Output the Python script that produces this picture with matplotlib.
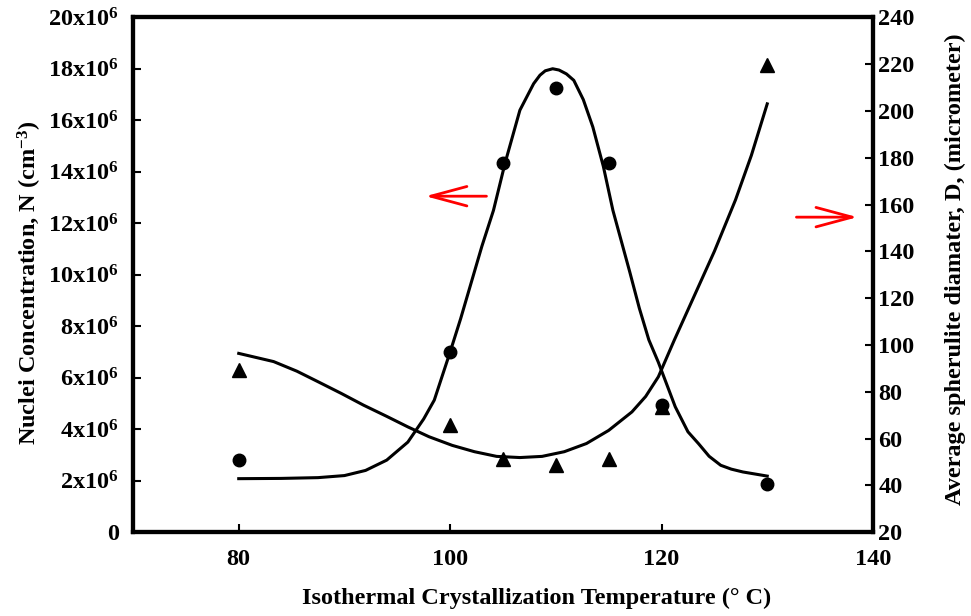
import matplotlib
matplotlib.use("Agg")
import matplotlib.pyplot as plt

# === Données ===
temp = [80, 100, 105, 110, 115, 120, 130]
nuclei = [2.8e6, 7.0e6, 14.34e6, 17.24e6, 14.34e6, 4.94e6, 1.86e6]
diam = [89.5, 65.7, 51.4, 48.6, 51.4, 73.6, 219.6]

# courbe lissée (N)
fit_n_t = [80, 84, 87.5, 90, 92, 94, 96, 97.5, 98.5, 100, 101, 102, 103, 104.1, 105.2,
           106.6, 107.9, 108.5, 109, 109.7, 110.3, 111, 111.7, 112.6, 113.5, 114.5,
           115.4, 116.2, 117, 117.9, 118.8, 119.7, 121.3, 122.5, 123.5, 124.5, 125.6,
           126.6, 127.7, 129, 130]
fit_n = [2.08, 2.09, 2.12, 2.2, 2.4, 2.8, 3.5, 4.4, 5.13, 7.0, 8.3, 9.7, 11.1, 12.5, 14.34,
         16.39, 17.42, 17.75, 17.92, 18.0, 17.95, 17.8, 17.55, 16.8, 15.74, 14.2,
         12.5, 11.3, 10.1, 8.7, 7.47, 6.6, 4.87, 3.9, 3.44, 2.95, 2.6,
         2.45, 2.34, 2.25, 2.18]

# courbe lissée (D)
fit_d_t = [80, 83.3, 85.5, 87.5, 89.7, 91.8, 94, 96, 98, 100.2, 102.3, 104.4, 106.6,
           108.7, 110.8, 112.9, 115, 117.2, 118.5, 119.7, 121.2, 123, 125, 127, 128.5, 130]
fit_d = [96.4, 92.9, 88.8, 84.3, 79.3, 74.3, 69.5, 65.0, 60.8, 57.1, 54.4, 52.4, 51.9,
         52.4, 54.4, 57.9, 63.5, 71.4, 78, 86.4, 102, 120, 140, 162, 181, 203]

y_left_ticks = list(range(0, 21, 2))
y_left_labels = ["0"] + [f"{v}x10$^{{6}}$" for v in y_left_ticks[1:]]

# === Style ===
plt.rcParams["font.family"] = "Liberation Serif"
plt.rcParams["font.weight"] = "bold"
plt.rcParams["mathtext.fontset"] = "custom"
plt.rcParams["mathtext.rm"] = "Liberation Serif:bold"
plt.rcParams["mathtext.it"] = "Liberation Serif:bold"
plt.rcParams["mathtext.bf"] = "Liberation Serif:bold"

fig = plt.figure(figsize=(9.71, 6.16), dpi=100)
ax = fig.add_axes([0.137, 0.136, 0.762, 0.836])
ax2 = ax.twinx()

ax.plot(fit_n_t, [v * 1e6 for v in fit_n], color="black", lw=2.2)
ax.plot(temp, nuclei, "o", color="black", ms=9)
ax2.plot(fit_d_t, fit_d, color="black", lw=2.2)
ax2.plot(temp, diam, "^", color="black", ms=9.5)

ax.set_xlim(70, 140)
ax.set_ylim(0, 20e6)
ax2.set_ylim(20, 240)

ax.set_xticks([80, 100, 120, 140])
ax.set_yticks([v * 1e6 for v in y_left_ticks])
ax.set_yticklabels(y_left_labels)
ax2.set_yticks(range(20, 241, 20))

for a in (ax, ax2):
    for s in a.spines.values():
        s.set_linewidth(3)
    a.tick_params(direction="in", length=6, width=1.5, labelsize=17.5)
ax.tick_params(axis="y", pad=10)
ax.tick_params(axis="x", pad=12)
ax2.tick_params(axis="y", pad=4)

ax.set_xlabel("Isothermal Crystallization Temperature (° C)", fontsize=17.5, fontweight="bold")
ax.set_ylabel("Nuclei Concentration, N (cm$^{-3}$)", fontsize=17.5, fontweight="bold")
ax2.set_ylabel("Average spherulite diamater, D, (micrometer)", fontsize=17.5, fontweight="bold")
ax.xaxis.set_label_coords(0.546, -0.107)
ax.yaxis.set_label_coords(-0.12, 0.485)
ax2.yaxis.set_label_coords(1.097, 0.51)

# flèches rouges
arrow = dict(arrowstyle="->,head_length=2.6,head_width=0.7", color="red", lw=2)
ax.annotate("", xy=(97.4, 13.05e6), xytext=(103.7, 13.05e6), arrowprops=arrow)
ax2.annotate("", xy=(138.8, 154.6), xytext=(132.5, 154.6), arrowprops=arrow)

plt.savefig("out.png", dpi=100)
